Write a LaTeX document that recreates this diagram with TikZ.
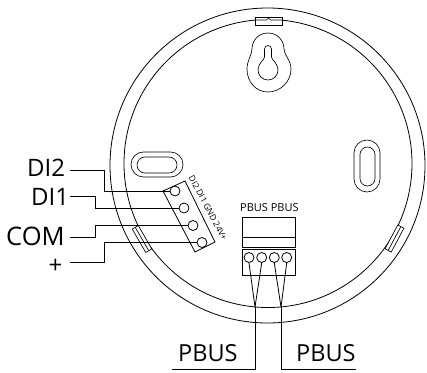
\documentclass[tikz,border=0pt]{standalone}
\usepackage{fontspec}
\setmainfont{Open Sans}
\tikzset{
  px/.style={x=1pt,y=-1pt},
  ln/.style={line width=0.8pt,black},
  thin line/.style={line width=0.65pt,black},
  biglab/.style={font=\fontsize{24}{24}\selectfont,inner sep=0pt,anchor=base west},
  comlab/.style={font=\fontsize{25.5}{26}\selectfont,inner sep=0pt,anchor=base west},
  pbuslab/.style={font=\fontsize{23.5}{24}\selectfont,inner sep=0pt,anchor=base west},
  smalllab/.style={font=\fontsize{11}{12}\selectfont,inner sep=0pt},
  tinylab/.style={font=\fontsize{8.5}{9}\selectfont,inner sep=0pt},
  pin/.style={circle,draw,line width=0.8pt,minimum size=10pt,inner sep=0pt}
}
\begin{document}
\begin{tikzpicture}[px]
\useasboundingbox (0,0) rectangle (427,372);
% body rings
\draw[ln] (267.5,165.5) circle (157.5);
\draw[ln] (268,163.5) circle (144);
% clips
\begin{scope}[shift={(268.5,21)}]
\filldraw[thin line,fill=white] (-13.5,-4) rectangle (13.5,4);
\draw[thin line] (-13.5,-1) -- (-2,-1) -- (0,-3) -- (2,-1) -- (13.5,-1);
\end{scope}
\begin{scope}[shift={(142,239)},rotate=-60]
\filldraw[thin line,fill=white] (-13.5,-3.5) rectangle (13.5,3.5);
\draw[thin line] (-13.5,0) -- (13.5,0);
\end{scope}
\begin{scope}[shift={(394.5,238.5)},rotate=62]
\filldraw[thin line,fill=white] (-13.5,-3.5) rectangle (13.5,3.5);
\draw[thin line] (-13.5,0) -- (13.5,0);
\end{scope}
% keyhole
\draw[thin line] (268,33) .. controls (278,33) and (284,41) .. (284,49)
  .. controls (284,55) and (291,60) .. (291,69)
  .. controls (291,82) and (280,92) .. (268,92)
  .. controls (256,92) and (247,82) .. (247,69)
  .. controls (247,60) and (252,55) .. (252,49)
  .. controls (252,41) and (258,33) .. (268,33) -- cycle;
\draw[thin line] (264.5,49) arc (180:360:3.5) -- (271.5,57)
  .. controls (271.5,60) and (278,63) .. (278,70)
  arc (0:180:10)
  .. controls (258,63) and (264.5,60) .. (264.5,57) -- cycle;
% slots
\draw[thin line,rounded corners=12.5pt] (131,152) rectangle (183,177);
\draw[thin line,rounded corners=8pt] (137,157) rectangle (177,173);
\draw[thin line,rounded corners=13pt] (354,140) rectangle (380,192);
\draw[thin line,rounded corners=7.5pt] (360,147) rectangle (375,186);
% DI terminal block
\draw[ln] (163,191) -- (185,181) -- (215,242) -- (195,252) -- cycle;
% bottom terminal block
\draw[ln] (242,217) rectangle (295,237);
\draw[ln] (242,237) rectangle (295,247);
\draw[ln] (242,249) rectangle (295,275);
\node[pin] (p1) at (249,257.5) {};
\node[pin] (p2) at (261.7,257.5) {};
\node[pin] (p3) at (274.3,257.5) {};
\node[pin] (p4) at (286.7,257.5) {};
\node[pin] (q1) at (175,191) {};
\node[pin] (q2) at (184,208) {};
\node[pin] (q3) at (193,225.5) {};
\node[pin] (q4) at (202,242.5) {};
% labels
\node[biglab] (di2) at (27,176.5) {DI2};
\node[biglab] (di1) at (31,205.5) {DI1};
\node[comlab] (com) at (6,245.5) {COM};
\node[biglab] (plus) at (48.5,273) {+};
\node[pbuslab] (pb1) at (178,361) {PBUS};
\node[pbuslab] (pb2) at (296,361) {PBUS};
\node[smalllab,anchor=west] (pl) at (240,208) {PBUS PBUS};
\node[tinylab,rotate=-62] (ti) at (208,208) {DI2 DI1 GND 24V+};
% leaders
\coordinate (d2a) at (70,170);\coordinate (d2b) at (104.5,170);\coordinate (d2c) at (104.5,191);
\draw[ln] (d2a) -- (d2b) -- (d2c) -- (q1.west);
\coordinate (d1a) at (70,196.5);\coordinate (d1b) at (95,196.5);\coordinate (d1c) at (95,208);
\draw[ln] (d1a) -- (d1b) -- (d1c) -- (q2.west);
\coordinate (ca) at (70,237);\coordinate (cb) at (95,237);\coordinate (cc) at (95,225.5);
\draw[ln] (ca) -- (cb) -- (cc) -- (q3.west);
\coordinate (pa) at (70,262.5);\coordinate (pb) at (104.5,262.5);\coordinate (pc) at (104.5,242.5);
\draw[ln] (pa) -- (pb) -- (pc) -- (q4.west);
\coordinate (j1) at (255,307);\coordinate (j2) at (281,307);
\coordinate (e1) at (255,369);\coordinate (e2) at (281,369);
\coordinate (s1) at (172,369);\coordinate (s2) at (356,369);
\draw[ln] (p1.south) -- (j1);
\draw[ln] (p2.south) -- (j1);
\draw[ln] (p3.south) -- (j2);
\draw[ln] (p4.south) -- (j2);
\draw[ln] (j1) -- (e1) -- (s1);
\draw[ln] (j2) -- (e2) -- (s2);
\end{tikzpicture}
\end{document}
